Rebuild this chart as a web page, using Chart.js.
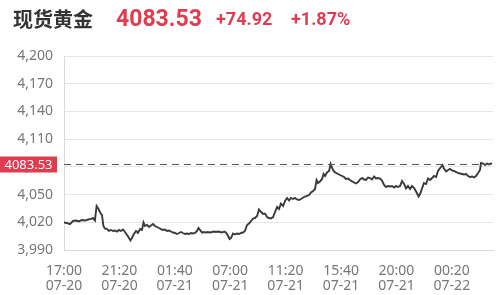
<!DOCTYPE html>
<html><head><meta charset="utf-8">
<script src="https://cdn.jsdelivr.net/npm/chart.js@4"></script>
<style>
html,body{margin:0;padding:0;background:#fff;}
#wrap{position:relative;width:496px;height:295px;overflow:hidden;}
#hdr{position:absolute;left:0;top:0;width:496px;height:40px;}
#hdr span{position:absolute;top:5px;font-weight:bold;white-space:nowrap;line-height:28px;}
#name{left:13px;font-family:"Noto Sans CJK SC",sans-serif;font-size:20px;color:#333;}
#price{left:116px;font-family:Roboto,sans-serif;font-size:23px;color:#e03c50;}
#chg{left:216px;font-family:Roboto,sans-serif;font-size:18px;color:#e03c50;top:5px!important;}
#pct{left:291px;font-family:Roboto,sans-serif;font-size:18px;color:#e03c50;top:5px!important;}
canvas{position:absolute;left:0;top:0;}
</style></head>
<body><div id="wrap"><canvas id="c" width="496" height="295"></canvas>
<div id="hdr"><span id="name"></span><span id="price"></span><span id="chg"></span><span id="pct"></span></div></div>
<script>
const title = "现货黄金";
const lastPrice = 4083.53;
const change = "+74.92";
const changePct = "+1.87%";
const tickTimes = ["17:00","21:20","01:40","07:00","11:20","15:40","20:00","00:20"];
const tickDates = ["07-20","07-20","07-21","07-21","07-21","07-21","07-21","07-22"];
const tickStepMin = 260;
const yTicks = [3990,4020,4050,4080,4110,4140,4170,4200];
// minutes since 07-20 17:00
const minutes = [0,14,28,42,56,70,84,99,113,127,136,145,153,162,171,178,185,192,202,211,221,230,239,249,258,267,277,286,296,305,312,319,328,338,347,357,366,373,380,390,399,408,418,427,436,446,455,465,474,483,493,502,511,521,530,540,549,558,568,577,587,596,605,615,624,631,638,648,657,666,676,685,695,704,713,723,732,742,751,760,770,777,784,793,802,812,821,831,840,849,859,868,878,887,896,906,915,925,934,943,953,962,971,981,990,1000,1009,1018,1028,1037,1047,1056,1065,1075,1084,1093,1103,1112,1122,1131,1140,1150,1159,1169,1178,1185,1192,1201,1211,1218,1225,1234,1244,1251,1258,1267,1277,1286,1295,1305,1314,1323,1333,1342,1352,1361,1370,1380,1389,1399,1408,1417,1427,1436,1445,1455,1464,1474,1483,1492,1502,1511,1520,1530,1539,1549,1558,1567,1577,1586,1596,1605,1614,1624,1633,1643,1652,1664,1671,1680,1689,1699,1708,1718,1727,1736,1746,1755,1765,1776,1783,1793,1802,1811,1821,1830,1840,1849,1858,1868,1877,1887,1896,1905,1915,1924,1933,1943,1952,1957,1967,1976,1985,1995,2004,2009];
const prices = [4019.8,4019.2,4018.1,4021.4,4021.9,4020.9,4022.5,4021.9,4023.0,4023.6,4024.6,4021.9,4037.6,4034.4,4030.1,4027.9,4016.0,4013.3,4012.7,4010.6,4011.7,4010.6,4011.1,4010.0,4011.7,4010.6,4012.2,4009.5,4006.2,4003.0,4000.3,4003.0,4007.3,4010.6,4008.4,4012.7,4011.7,4019.8,4016.0,4017.1,4014.9,4016.5,4018.1,4016.0,4014.9,4013.8,4012.7,4011.7,4012.2,4010.6,4011.1,4010.0,4008.9,4008.4,4007.3,4008.4,4009.5,4008.4,4007.3,4007.9,4007.3,4008.4,4007.9,4008.4,4010.6,4013.8,4011.7,4008.9,4009.5,4008.9,4009.5,4008.9,4009.5,4010.0,4009.5,4010.0,4009.5,4008.9,4010.0,4008.9,4005.2,4001.9,4003.0,4007.9,4006.8,4007.9,4007.3,4008.4,4008.9,4010.6,4017.1,4018.7,4021.4,4024.1,4024.6,4026.8,4033.8,4031.1,4029.0,4029.5,4025.7,4024.6,4024.1,4025.7,4031.1,4036.5,4034.4,4040.3,4037.6,4043.0,4046.3,4043.6,4046.3,4045.2,4046.3,4044.7,4044.1,4045.2,4046.8,4047.9,4048.5,4049.5,4052.2,4053.9,4056.0,4065.8,4062.5,4064.2,4066.9,4072.3,4070.1,4073.9,4075.5,4083.1,4078.8,4075.0,4073.4,4072.3,4071.2,4070.1,4069.0,4066.9,4067.4,4065.8,4064.2,4063.1,4062.0,4063.6,4066.3,4067.9,4066.3,4065.8,4068.5,4067.9,4066.3,4069.6,4067.4,4067.9,4067.4,4065.2,4060.4,4058.2,4059.3,4058.7,4059.3,4057.7,4059.3,4058.2,4059.3,4064.7,4061.4,4056.6,4059.3,4056.0,4059.3,4057.1,4053.3,4047.9,4050.6,4056.6,4062.5,4061.4,4067.4,4065.8,4067.9,4070.1,4069.0,4075.5,4078.8,4082.0,4078.2,4075.0,4076.6,4077.7,4076.1,4075.5,4074.4,4073.4,4072.8,4072.3,4071.7,4072.3,4070.1,4069.0,4069.6,4068.5,4070.1,4073.4,4076.6,4084.2,4083.6,4082.0,4083.6,4082.6,4083.6,4083.53];

document.getElementById('name').textContent = title;
document.getElementById('price').textContent = lastPrice.toFixed(2);
document.getElementById('chg').textContent = change;
document.getElementById('pct').textContent = changePct;

const points = minutes.map((m,i)=>({x:m,y:prices[i]}));
const RED = '#e03c50';

const refLine = {
  id:'refLine',
  afterDatasetsDraw(chart){
    const {ctx, chartArea:a, scales:{y}} = chart;
    const py = Math.round(y.getPixelForValue(lastPrice)) + 0.5;
    ctx.save();
    ctx.strokeStyle = '#555';
    ctx.lineWidth = 1;
    ctx.setLineDash([7,5]);
    ctx.beginPath(); ctx.moveTo(a.left, py); ctx.lineTo(a.right, py); ctx.stroke();
    ctx.setLineDash([]);
    ctx.fillStyle = RED;
    ctx.fillRect(0, py-8, 57, 16);
    ctx.fillStyle = '#fff';
    ctx.font = '13px "Noto Sans", sans-serif';
    ctx.textAlign = 'center'; ctx.textBaseline = 'middle';
    ctx.fillText(lastPrice.toFixed(2), 28.5, py+0.5);
    ctx.restore();
  }
};

new Chart(document.getElementById('c'), {
  type:'line',
  data:{datasets:[{data:points, borderColor:'#3a3a3a', borderWidth:1.9, pointRadius:0, tension:0, fill:false}]},
  options:{
    responsive:false, animation:false,
    layout:{padding:{top:56,right:3,left:0,bottom:0}},
    plugins:{legend:{display:false}, tooltip:{enabled:false}},
    scales:{
      x:{type:'linear', min:0, max:2013,
        afterBuildTicks(s){ s.ticks = tickTimes.map((t,i)=>({value:i*tickStepMin})); },
        afterFit(s){ s.height = 45; },
        grid:{display:false},
        border:{display:true,color:'#d9d9d9'},
        ticks:{padding:6, color:'#777', font:{family:'"Noto Sans", sans-serif', size:14, lineHeight:1.05}, maxRotation:0, autoSkip:false,
          callback(v){ const i = Math.round(v/tickStepMin); return [tickTimes[i], tickDates[i]]; }}
      },
      y:{min:3990,max:4200,
        afterBuildTicks(s){ s.ticks = yTicks.map(v=>({value:v})); },
        afterFit(s){ s.width = 64; },
        grid:{color:'#e6e6e6', drawTicks:false},
        border:{display:true,color:'#d9d9d9'},
        ticks:{padding:11, color:'#777', font:{family:'"Noto Sans", sans-serif', size:14},
          callback(v){ return v.toLocaleString('en-US'); }}
      }
    }
  },
  plugins:[refLine]
});
</script></body></html>
